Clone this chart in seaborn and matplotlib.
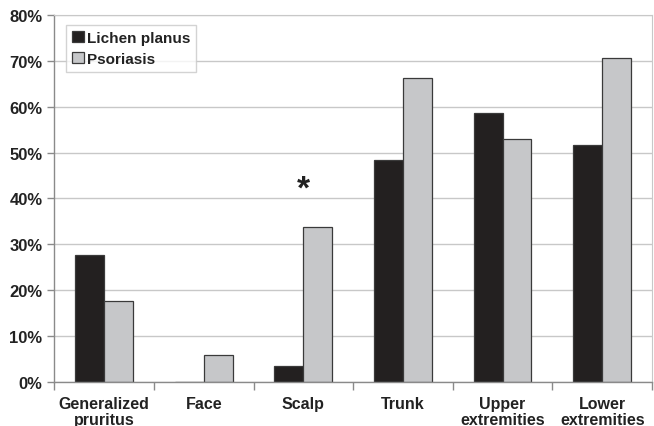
import pandas as pd
import matplotlib.pyplot as plt
import matplotlib.ticker as mtick
import seaborn as sns

# Data
sites = ["Generalized\npruritus", "Face", "Scalp", "Trunk", "Upper\nextremities", "Lower\nextremities"]
lichen = [27.6, 0.0, 3.4, 48.3, 58.6, 51.7]
psoriasis = [17.6, 5.9, 33.8, 66.2, 52.9, 70.6]
groups = ["Lichen planus", "Psoriasis"]

df = pd.DataFrame({
    "site": sites * 2,
    "group": [groups[0]] * len(sites) + [groups[1]] * len(sites),
    "pct": lichen + psoriasis,
})

sns.set_style("white")
plt.rcParams["font.family"] = ["Liberation Sans", "DejaVu Sans"]
plt.rcParams["font.weight"] = "bold"

fig = plt.figure(figsize=(6.54, 4.27), dpi=100)
ax = fig.add_axes([0.083, 0.103, 0.914, 0.86])

sns.barplot(data=df, x="site", y="pct", hue="group", order=sites, hue_order=groups,
            palette=["#231f20", "#c6c7c9"], width=0.58, edgecolor="#3a3a3a",
            linewidth=0.9, ax=ax)

ax.set_ylim(0, 80)
ax.set_xlim(-0.5, len(sites) - 0.5)
ax.yaxis.set_major_locator(mtick.MultipleLocator(10))
ax.yaxis.set_major_formatter(mtick.PercentFormatter(decimals=0))
ax.grid(axis="y", color="#c8c8c8", linewidth=1)
ax.set_axisbelow(True)
ax.set_xlabel("")
ax.set_ylabel("")

for s in ["top", "right"]:
    ax.spines[s].set_color("#c8c8c8")
for s in ["left", "bottom"]:
    ax.spines[s].set_color("#8a8a8a")
    ax.spines[s].set_linewidth(1)

# category separators as ticks
ax.set_xticks([i - 0.5 for i in range(len(sites) + 1)], minor=True)
ax.tick_params(axis="x", which="minor", length=6, color="#8a8a8a", width=1, bottom=True)
ax.tick_params(axis="x", which="major", length=0, pad=10, labelsize=11.5)
ax.tick_params(axis="y", length=5, color="#8a8a8a", width=1, left=True, labelsize=12)
for t in ax.get_xticklabels():
    t.set_linespacing(1.05)
for t in ax.get_xticklabels() + ax.get_yticklabels():
    t.set_fontweight("bold")
    t.set_color("#222222")

# significance mark
ax.text(2, 42.0, "*", ha="center", va="center", fontsize=24, fontweight="bold", color="#222222")

leg = ax.legend(loc="upper left", bbox_to_anchor=(0.006, 0.994), frameon=True, fancybox=False,
                edgecolor="#c8c8c8", handlelength=0.8, handleheight=0.8, handletextpad=0.2,
                borderpad=0.4, labelspacing=0.45, prop={"weight": "bold", "size": 11})
for t in leg.get_texts():
    t.set_color("#222222")

fig.savefig("out.png", dpi=100)
